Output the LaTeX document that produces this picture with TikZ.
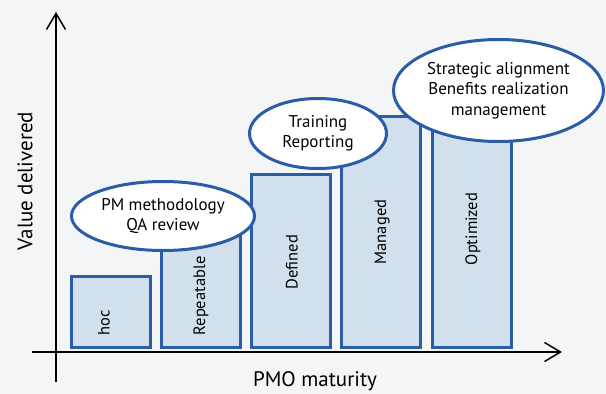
\documentclass[tikz,border=0pt]{standalone}
\usepackage{fontspec}
\setmainfont{PT Sans}
\usetikzlibrary{shapes.geometric,arrows.meta}

\definecolor{pmoblue}{RGB}{42, 92, 168}
\definecolor{pmofill}{RGB}{210, 223, 236}
\definecolor{pmobg}{RGB}{244, 245, 247}

\begin{document}
\begin{tikzpicture}[
x=1pt, y=-1pt,
level/.style={rectangle, draw=pmoblue, fill=pmofill, line width=3pt, inner sep=0pt, minimum width=79pt, anchor=south},
levelname/.style={rotate=90, font=\fontsize{16.5}{18}\selectfont, inner sep=0pt},
bubble/.style={ellipse, draw=pmoblue, fill=white, line width=3pt, align=center, inner sep=0pt, font=\fontsize{17}{20.5}\selectfont},
axis/.style={line width=1.5pt, -{Straight Barb[length=16pt, width=19pt, line width=1.5pt]}},
axislabel/.style={font=\fontsize{21}{24}\selectfont, inner sep=0pt}
]

% Background and canvas size
\fill[pmobg] (0,0) rectangle (606,394);

% Axes
\coordinate (ystart) at (56,382);
\coordinate (yend) at (56,12);
\coordinate (xstart) at (32,352);
\coordinate (xend) at (562,352);
\draw [axis] (ystart) -- (yend);
\draw [axis] (xstart) -- (xend);
\node (value) [axislabel, rotate=90] at (25,181) {Value delivered};
\node (maturity) [axislabel] at (315,381) {PMO maturity};

% Maturity levels
\node (hoc) [level, minimum height=71pt] at (110.5,348.5) {};
\node (repeatable) [level, minimum height=124pt] at (200.5,348.5) {};
\node (defined) [level, minimum height=173pt] at (291,348.5) {};
\node (managed) [level, minimum height=231pt] at (381,348.5) {};
\node (optimized) [level, minimum height=244pt] at (472,348.5) {};

\node (hoc_name) [levelname] at (104,323) {hoc};
\node (repeatable_name) [levelname] at (201,296) {Repeatable};
\node (defined_name) [levelname] at (292,262) {Defined};
\node (managed_name) [levelname] at (382,232) {Managed};
\node (optimized_name) [levelname] at (473,229) {Optimized};

% Practices per level
\node (methodology) [bubble, minimum width=183pt, minimum height=69pt] at (163,216) {PM methodology\\QA review};
\node (training) [bubble, minimum width=137pt, minimum height=70pt] at (318,133.5) {Training\\Reporting};
\node (strategic) [bubble, minimum width=210pt, minimum height=102pt] at (498.5,90.5) {Strategic alignment\\Benefits realization\\management};

\end{tikzpicture}
\end{document}
